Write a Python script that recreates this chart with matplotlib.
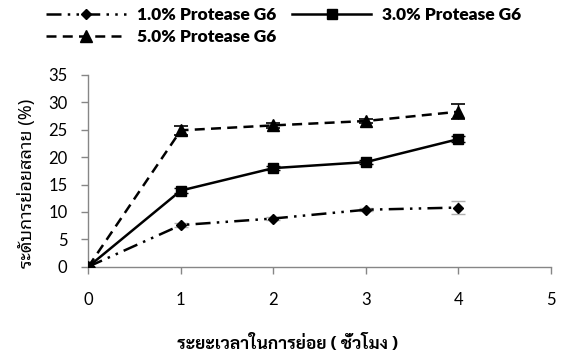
import matplotlib
matplotlib.use("Agg")
import matplotlib.pyplot as plt
from matplotlib.lines import Line2D

hours = [0, 1, 2, 3, 4]
p1 = [0, 7.6, 8.8, 10.4, 10.8]
p1_err = [0, 0.3, 0.3, 0.3, 1.2]
p3 = [0, 13.9, 18.0, 19.1, 23.3]
p3_err = [0, 0.5, 0.4, 0.4, 0.5]
p5 = [0, 24.9, 25.8, 26.6, 28.3]
p5_err = [0, 0.8, 0.5, 0.4, 1.4]
labels = ["1.0% Protease G6", "3.0% Protease G6", "5.0% Protease G6"]
xlabel = "ระยะเวลาในการย่อย ( ชั่วโมง )"
ylabel = "ระดับการย่อยสลาย (%)"

W, H = 564, 361
fig = plt.figure(figsize=(W/100, H/100), dpi=100)
ax = fig.add_axes([88.3/W, 1-266.7/H, (551-88.3)/W, (266.7-75)/H])

num_font = "Lato"
lw = 1.8
ax.errorbar(hours, p1, yerr=p1_err, color="black", lw=lw, ls=(0, (6, 2.5, 1, 2.5, 1, 2.5)),
            marker="D", ms=5.5, ecolor="#b0b0b0", elinewidth=1, capsize=5, capthick=1, zorder=3)
ax.errorbar(hours, p3, yerr=p3_err, color="black", lw=lw, ls="-",
            marker="s", ms=7, ecolor="black", elinewidth=1, capsize=5, capthick=1, zorder=3)
ax.errorbar(hours, p5, yerr=p5_err, color="black", lw=lw, ls=(0, (4, 2.5)),
            marker="^", ms=8, ecolor="black", elinewidth=1, capsize=5, capthick=1.2, zorder=3)

ax.set_xlim(0, 5)
ax.set_ylim(0, 35)
ax.set_xticks(range(0, 6))
ax.set_yticks(range(0, 40, 5))
for s in ["top", "right"]:
    ax.spines[s].set_visible(False)
for s in ["left", "bottom"]:
    ax.spines[s].set_color("#868686")
    ax.spines[s].set_linewidth(1.0)
ax.tick_params(axis="both", direction="out", length=5, width=1, color="#868686",
               labelsize=12)
ax.tick_params(axis="y", pad=10)
ax.tick_params(axis="x", pad=13)
for t in ax.get_xticklabels() + ax.get_yticklabels():
    t.set_fontfamily(num_font)
ax.patch.set_visible(False)

fig.text(288/W, 1-344/H, xlabel, ha="center", va="center",
         fontfamily=["Sarabun", "DejaVu Sans"], fontweight="bold", fontsize=12.5)
fig.text(27/W, 1-183/H, ylabel, ha="center", va="center", rotation=90,
         fontfamily=["Noto Sans Thai Looped", "DejaVu Sans"], fontsize=13)

h1 = Line2D([], [], color="black", lw=lw, ls=(0, (6, 2.5, 1, 2.5, 1, 2.5)), marker="D", ms=5.5)
h3 = Line2D([], [], color="black", lw=lw, ls="-", marker="s", ms=7)
h5 = Line2D([], [], color="black", lw=lw, ls=(0, (4, 2.5)), marker="^", ms=8)
leg = fig.legend([h1, h5, h3], [labels[0], labels[2], labels[1]], ncol=2,
                 loc="upper left", bbox_to_anchor=(36/W, 1.0+3/H), frameon=False,
                 prop={"family": num_font, "weight": "heavy", "size": 12.5},
                 handlelength=4.6, handletextpad=0.6, columnspacing=0.9,
                 labelspacing=0.3, borderaxespad=0.2)

fig.savefig("out.png", dpi=100)
